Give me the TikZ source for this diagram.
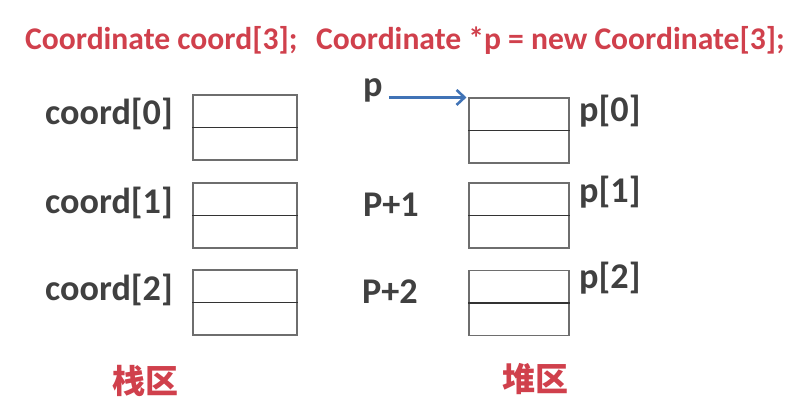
\documentclass[tikz,border=0pt]{standalone}
\usepackage{fontspec}
\setmainfont{Carlito}
\newfontfamily\cjk{Noto Sans CJK SC}
\usetikzlibrary{arrows.meta}
\definecolor{titlered}{RGB}{208,64,76}
\definecolor{labelgray}{RGB}{64,64,64}
\definecolor{arrowblue}{RGB}{64,115,182}
\definecolor{boxgray}{RGB}{110,110,110}
\tikzset{
  title/.style={inner sep=0pt, anchor=base west, text=titlered, font=\fontsize{31.6}{36}\selectfont\bfseries},
  lbl/.style={inner sep=0pt, anchor=base west, text=labelgray, font=\fontsize{36.2}{42}\selectfont\bfseries},
  zone/.style={inner sep=0pt, text=titlered, font=\cjk\fontsize{33}{38}\selectfont\bfseries},
  cell/.style={draw=boxgray, line width=1.1pt, minimum height=65pt, inner sep=0pt},
  midline/.style={draw=black!80, line width=1.4pt},
  arr/.style={draw=arrowblue, line width=3pt, -{Straight Barb[length=8pt,width=15pt,line width=2.6pt]}}
}
\begin{document}
\begin{tikzpicture}[x=1pt,y=-1pt]
\useasboundingbox (0,0) rectangle (790,401);
\node[title] (t1) at (25,50) {Coordinate coord[3];};
\node[title] (t2) at (316,50) {Coordinate *p = new Coordinate[3];};
% stack boxes
\node[cell, minimum width=104pt] (lb0) at (245,127.5) {};
\node[cell, minimum width=104pt] (lb1) at (245,215.5) {};
\node[cell, minimum width=104pt] (lb2) at (245,302.5) {};
% heap boxes
\node[cell, minimum width=100pt] (rb0) at (519,130.5) {};
\node[cell, minimum width=100pt] (rb1) at (519,215.5) {};
\node[cell, minimum width=100pt] (rb2) at (519,303) {};
\foreach \b in {lb0,lb1,lb2,rb0,rb1,rb2}{\draw[midline] (\b.west) -- (\b.east);}
% labels
\node[lbl] (c0) at (45,125) {coord[0]};
\node[lbl] (c1) at (45,213) {coord[1]};
\node[lbl] (c2) at (45,300) {coord[2]};
\node[lbl] (p) at (363,97) {p};
\node[lbl] (p1) at (363,216) {P+1};
\node[lbl] (p2) at (362,303) {P+2};
\node[lbl] (q0) at (579,122) {p[0]};
\node[lbl] (q1) at (579,202) {p[1]};
\node[lbl] (q2) at (579,288) {p[2]};
\draw[arr] ([xshift=6pt]p.east |- rb0.north west) -- ([xshift=-2pt]rb0.north west);
\node[zone] (stack) at (145,381) {栈区};
\node[zone] (heap) at (535,379) {堆区};
\end{tikzpicture}
\end{document}
